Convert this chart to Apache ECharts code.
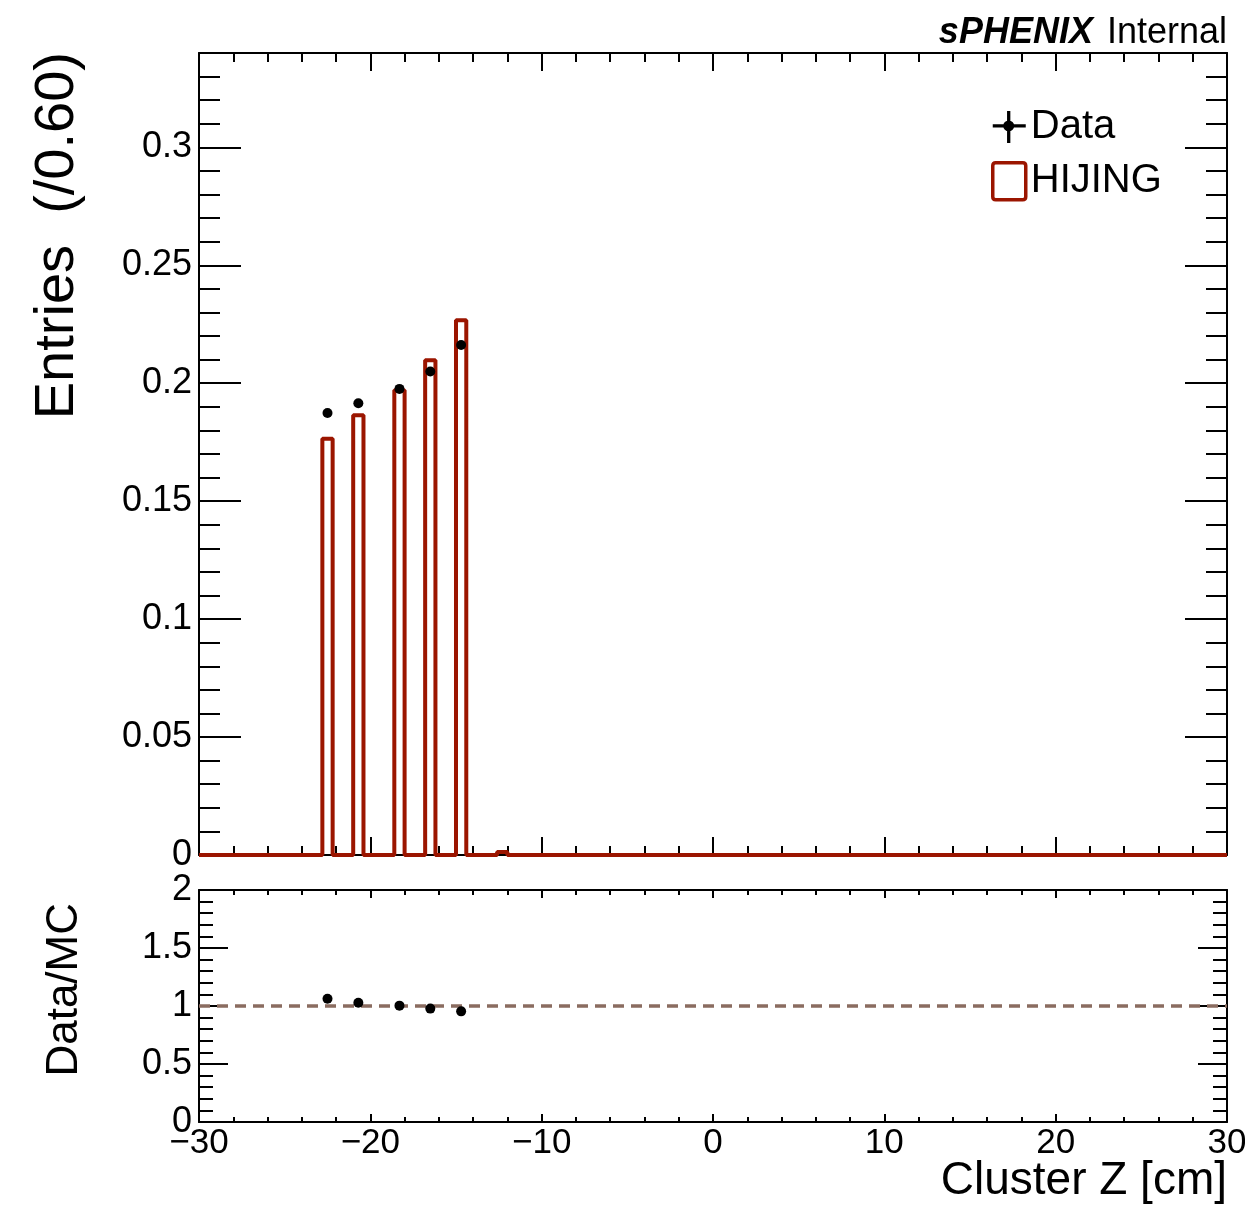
<!DOCTYPE html>
<html>
<head>
<meta charset="utf-8">
<script src="https://cdn.jsdelivr.net/npm/echarts@6/dist/echarts.min.js"></script>
<style>
html,body{margin:0;padding:0;background:#fff;}
#c{width:1245px;height:1211px;}
</style>
</head>
<body>
<div id="c"></div>
<script>
// ---- data ----
const binWidth = 0.6;
const mcBinLow = [-22.8, -21.0, -18.6, -16.8, -15.0, -12.6];
const mcValues = [0.1765, 0.1864, 0.1970, 0.2097, 0.2267, 0.0013];
const dataCenters = [-22.5, -20.7, -18.3, -16.5, -14.7];
const dataValues = [0.1874, 0.1915, 0.1976, 0.2050, 0.2162];
const xRange = [-30, 30];
const yMainMax = 0.34;
const ratioRange = [0, 2];

const FONT = "'Liberation Sans', Arial, Helvetica, sans-serif";
const RED = '#9b1500';

// step outline for HIJING histogram
const mcStep = [[xRange[0], 0]];
mcBinLow.forEach((lo, i) => {
  const hi = lo + binWidth;
  mcStep.push([lo, 0], [lo, mcValues[i]], [hi, mcValues[i]], [hi, 0]);
});
mcStep.push([xRange[1], 0]);

const dataPts = dataCenters.map((x, i) => [x, dataValues[i]]);
const ratioPts = dataCenters.map((x, i) => {
  const j = mcBinLow.findIndex(lo => x > lo && x < lo + binWidth);
  return [x, dataValues[i] / mcValues[j]];
});

function xAx(grid, pos, major, minor, labels) {
  return {
    type: 'value', gridIndex: grid, position: pos, min: xRange[0], max: xRange[1], interval: 10,
    axisLine: {show: true, onZero: false, lineStyle: {color: '#000', width: 2}},
    axisTick: {show: true, inside: true, length: major, lineStyle: {color: '#000', width: 2}},
    minorTick: {show: true, splitNumber: 5, length: minor, lineStyle: {color: '#000', width: 2}},
    splitLine: {show: false}, minorSplitLine: {show: false},
    axisLabel: labels ? {
      show: true, color: '#000', fontFamily: FONT, fontSize: 35, margin: 4,
      formatter: v => v < 0 ? '\u2212' + (-v) : String(v)
    } : {show: false}
  };
}
function yAx(grid, pos, min, max, interval, major, minor, labels) {
  return {
    type: 'value', gridIndex: grid, position: pos, min: min, max: max, interval: interval,
    axisLine: {show: true, onZero: false, lineStyle: {color: '#000', width: 2}},
    axisTick: {show: true, inside: true, length: major, lineStyle: {color: '#000', width: 2}},
    minorTick: {show: true, splitNumber: 5, length: minor, lineStyle: {color: '#000', width: 2}},
    splitLine: {show: false}, minorSplitLine: {show: false},
    axisLabel: labels ? {
      show: true, color: '#000', fontFamily: FONT, fontSize: 36, margin: 7,
      showMaxLabel: max === ratioRange[1],
      formatter: v => (Math.abs(v / interval - Math.round(v / interval)) < 1e-6) ? String(+v.toFixed(3)) : ''
    } : {show: false}
  };
}

const chart = echarts.init(document.getElementById('c'), null, {renderer: 'canvas'});
chart.setOption({
  animation: false,
  backgroundColor: '#fff',
  textStyle: {fontFamily: FONT},
  grid: [
    {left: 199, right: 18, top: 53, bottom: 356, outerBoundsMode: 'none', containLabel: false},
    {left: 199, right: 18, top: 890, bottom: 89, outerBoundsMode: 'none', containLabel: false}
  ],
  xAxis: [
    xAx(0, 'bottom', 18, 9, false),
    xAx(0, 'top', 18, 9, false),
    xAx(1, 'bottom', 8, 5, true),
    xAx(1, 'top', 8, 5, false)
  ],
  yAxis: [
    yAx(0, 'left', 0, yMainMax, 0.05, 42, 21, true),
    yAx(0, 'right', 0, yMainMax, 0.05, 42, 21, false),
    yAx(1, 'left', ratioRange[0], ratioRange[1], 0.5, 29, 14, true),
    yAx(1, 'right', ratioRange[0], ratioRange[1], 0.5, 29, 14, false)
  ],
  legend: {
    show: true, orient: 'vertical', left: 991, top: 107, padding: 0, itemWidth: 33, itemHeight: 37, itemGap: 14,
    selectedMode: false,
    textStyle: {fontFamily: FONT, fontSize: 40, color: '#000', padding: [0, 0, 0, 0]},
    data: [
      {name: 'Data', icon: 'path://M2,15 L32,15 L32,18 L2,18 Z M15,3 L18,3 L18,32 L15,32 Z M16.5,11.5 A5,5 0 1 1 16.49,11.5 Z',
       itemStyle: {color: '#000', opacity: 1}},
      {name: 'HIJING', icon: 'path://M3,0 L30,0 Q33,0 33,3 L33,34 Q33,37 30,37 L3,37 Q0,37 0,34 L0,3 Q0,0 3,0 Z',
       itemStyle: {color: '#fff', borderColor: RED, borderWidth: 3.5, opacity: 1}}
    ]
  },
  series: [
    {
      name: 'HIJING', type: 'line', xAxisIndex: 0, yAxisIndex: 0, data: mcStep,
      showSymbol: false, symbol: 'none', clip: false,
      lineStyle: {color: RED, width: 4, opacity: 1}, itemStyle: {color: RED}, z: 3
    },
    {
      name: 'Data', type: 'scatter', xAxisIndex: 0, yAxisIndex: 0, data: dataPts,
      symbol: 'circle', symbolSize: 10, itemStyle: {color: '#000', opacity: 1}, z: 4
    },
    {
      name: 'ratioOne', type: 'line', xAxisIndex: 2, yAxisIndex: 2, data: [[xRange[0], 1], [xRange[1], 1]],
      symbol: 'none', lineStyle: {color: '#8a6c60', width: 3.5, type: [11, 7], opacity: 1}, z: 3
    },
    {
      name: 'Ratio', type: 'scatter', xAxisIndex: 2, yAxisIndex: 2, data: ratioPts,
      symbol: 'circle', symbolSize: 10, itemStyle: {color: '#000', opacity: 1}, z: 4
    }
  ],
  graphic: [
    {type: 'text', x: 58, y: 52, rotation: Math.PI / 2,
     style: {text: 'Entries  (/0.60)', font: '56px ' + FONT, fill: '#000', align: 'right', verticalAlign: 'middle'}},
    {type: 'text', x: 65, y: 903, rotation: Math.PI / 2,
     style: {text: 'Data/MC', font: '44px ' + FONT, fill: '#000', align: 'right', verticalAlign: 'middle'}},
    {type: 'text', x: 1227, y: 1181,
     style: {text: 'Cluster Z [cm]', font: '46px ' + FONT, fill: '#000', align: 'right', verticalAlign: 'middle'}},
    {type: 'text', x: 1227, y: 33,
     style: {
       text: '{b|sPHENIX}{n|Internal}', align: 'right', verticalAlign: 'middle', fill: '#000',
       rich: {
         b: {fontFamily: FONT, fontSize: 36, fontWeight: 'bold', fontStyle: 'italic', fill: '#000'},
         n: {fontFamily: FONT, fontSize: 36, fill: '#000', padding: [0, 0, 0, 14]}
       }
     }}
  ]
});
</script>
</body>
</html>
